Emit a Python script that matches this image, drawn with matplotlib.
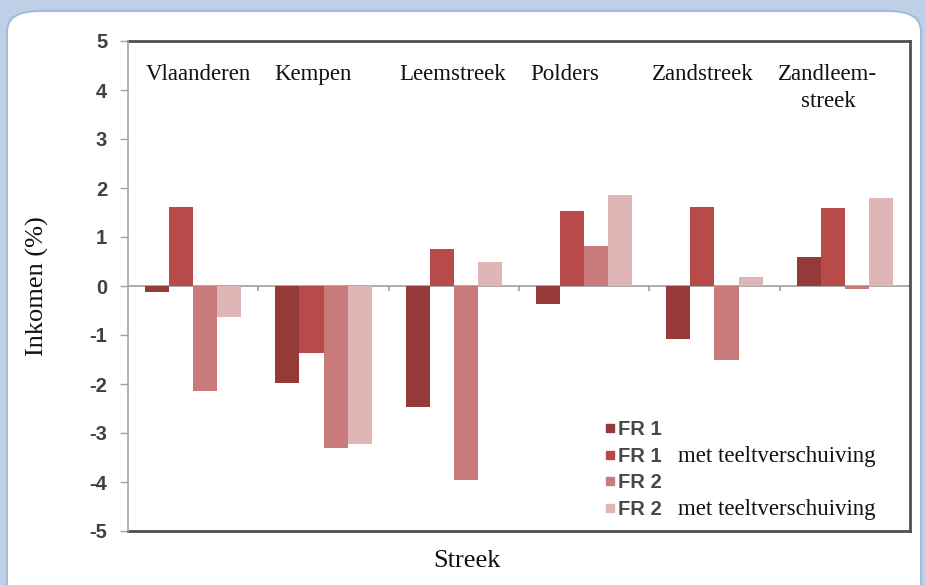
import numpy as np
import matplotlib.pyplot as plt
from matplotlib.patches import FancyBboxPatch
from matplotlib.lines import Line2D

# data
streken = ['Vlaanderen', 'Kempen', 'Leemstreek', 'Polders', 'Zandstreek', 'Zandleem-\nstreek']
fr1 = [-0.12, -1.97, -2.46, -0.37, -1.08, 0.60]
fr1_teelt = [1.62, -1.36, 0.76, 1.54, 1.62, 1.59]
fr2 = [-2.14, -3.31, -3.96, 0.82, -1.52, -0.07]
fr2_teelt = [-0.63, -3.22, 0.50, 1.86, 0.18, 1.79]
reeks_namen = ['FR 1', 'FR 1', 'FR 2', 'FR 2']
met_teelt = [False, True, False, True]
y_ticks = [-5, -4, -3, -2, -1, 0, 1, 2, 3, 4, 5]

kleuren = ['#953939', '#b94a4a', '#c97b7b', '#e0b5b5']
SERIF = ['Liberation Serif', 'DejaVu Serif']
SANS = ['Liberation Sans', 'DejaVu Sans']

W, H = 925, 585
fig = plt.figure(figsize=(W / 100, H / 100), dpi=100)
fig.patch.set_facecolor('#bed0e8')

# rounded white panel behind everything
panel = FancyBboxPatch((7 / W, -20 / H), 914 / W, (H - 11 + 20) / H,
                       boxstyle='round,pad=0,rounding_size=0.035',
                       transform=fig.transFigure, facecolor='white',
                       edgecolor='#a3bad8', linewidth=1.5, zorder=-5)
fig.patches.append(panel)

ax = fig.add_axes([128 / W, 1 - 531 / H, (910 - 128) / W, (531 - 41) / H])
ax.set_facecolor('none')
ax.set_zorder(1)

reeksen = [fr1, fr1_teelt, fr2, fr2_teelt]
x = np.arange(len(streken))
breedte = 0.185
for j, vals in enumerate(reeksen):
    ax.bar(x + (j - 1.5) * breedte, vals, width=breedte, color=kleuren[j],
           edgecolor='none', zorder=3)

ax.axhline(0, color='#a6a6a6', lw=1.3, zorder=2)
# small ticks on the zero line between groups
ax.vlines(x[:-1] + 0.5, -0.11, 0, color='#a6a6a6', lw=1.3, zorder=2)

ax.set_xlim(-0.5, len(streken) - 0.5)
ax.set_ylim(-5, 5)
ax.set_yticks(y_ticks)
ax.set_yticklabels([str(v) for v in y_ticks], family=SANS, fontsize=14.5,
                   fontweight='bold', color='#404040')
ax.tick_params(axis='y', length=6, width=1, color='#a0a0a0', pad=9)
ax.set_xticks([])

for side in ['top', 'right', 'bottom']:
    ax.spines[side].set_color('#505050')
    ax.spines[side].set_linewidth(2)
ax.spines['left'].set_color('#a6a6a6')
ax.spines['left'].set_linewidth(1.2)
ax.spines['left'].set_zorder(4)

# region names at the top of the plot area
naam_offset = [0.04, -0.08, -0.01, -0.15, -0.09, -0.13]
for i, naam in enumerate(streken):
    ax.text(x[i] + naam_offset[i], 4.53, naam, ha='center', va='top',
            multialignment='center', linespacing=1.35,
            family=SERIF, fontsize=16.5, color='#111111')

ax.set_ylabel('Inkomen (%)', family=SERIF, fontsize=19, color='#111111')
ax.yaxis.label.set_va('center')
ax.yaxis.set_label_coords((37 - 128) / 782, 0.5)
ax.set_xlabel('Streek', family=SERIF, fontsize=19, color='#111111')
ax.xaxis.label.set_va('center')
ax.xaxis.set_label_coords((467 - 128) / 782, (531 - 561) / 490)

handles = [Line2D([], [], marker='s', linestyle='', markersize=5.5,
                  markerfacecolor=c, markeredgecolor=c) for c in kleuren]
leg = ax.legend(handles, reeks_namen, loc='center left',
                bbox_to_anchor=((605 - 128) / 782, (531 - 469.5) / 490),
                frameon=False, handlelength=0.45, handletextpad=0.2,
                labelspacing=0.38, borderpad=0, borderaxespad=0,
                prop={'family': SANS, 'size': 14.5, 'weight': 'bold'})
for t in leg.get_texts():
    t.set_color('#484848')

fig.canvas.draw()
for t, extra in zip(leg.get_texts(), met_teelt):
    if extra:
        bb = t.get_window_extent()
        fig.text((bb.x1 + 16) / W, (bb.y0 + bb.y1) / 2 / H, 'met teeltverschuiving',
                 ha='left', va='center', family=SERIF, fontsize=16.5, color='#111111')

fig.savefig('out.png', dpi=100, facecolor=fig.get_facecolor())
